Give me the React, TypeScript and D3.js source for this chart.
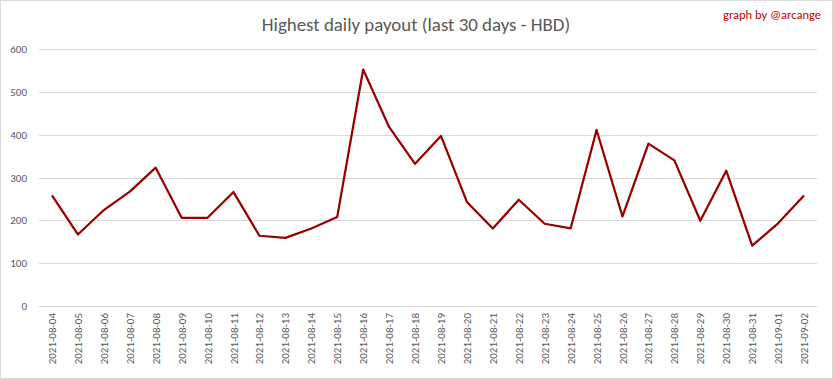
import React from "react";
import * as d3 from "d3";

const dates = [
  "2021-08-04","2021-08-05","2021-08-06","2021-08-07","2021-08-08","2021-08-09","2021-08-10",
  "2021-08-11","2021-08-12","2021-08-13","2021-08-14","2021-08-15","2021-08-16","2021-08-17",
  "2021-08-18","2021-08-19","2021-08-20","2021-08-21","2021-08-22","2021-08-23","2021-08-24",
  "2021-08-25","2021-08-26","2021-08-27","2021-08-28","2021-08-29","2021-08-30","2021-08-31",
  "2021-09-01","2021-09-02",
];
const payouts = [
  258, 167, 224, 267, 323, 206, 206, 266, 164, 159, 181, 208, 552, 418, 332,
  397, 243, 181, 248, 192, 181, 411, 209, 379, 340, 199, 316, 141, 193, 258,
];
const yTicks = [0, 100, 200, 300, 400, 500, 600];
const title = "Highest daily payout (last 30 days - HBD)";
const credit = "graph by @arcange";

const W = 833;
const H = 379;
const font = "Carlito, Calibri, 'Liberation Sans', Arial, sans-serif";

export default function App() {
  const x = d3.scaleBand<string>().domain(dates).range([39, 817]);
  const y = d3.scaleLinear().domain([0, 600]).range([306, 49]);
  const line = d3
    .line<number>()
    .x((_, i) => (x(dates[i]) as number) + x.bandwidth() / 2)
    .y((d) => y(d));

  return (
    <svg
      width={W}
      height={H}
      style={{ position: "absolute", left: 0, top: 0, background: "#fff" }}
      fontFamily={font}
    >
      <rect x={0.5} y={0.5} width={W - 1} height={H - 1} fill="#fff" stroke="#d9d9d9" />
      <text x={416} y={31} textAnchor="middle" fontSize={18.9} fill="#595959">
        {title}
      </text>
      <text x={821} y={18.5} textAnchor="end" fontSize={12.5} fill="#c00000">
        {credit}
      </text>
      {yTicks.map((t) => (
        <g key={t}>
          <line x1={39} x2={817} y1={Math.round(y(t)) + 0.5} y2={Math.round(y(t)) + 0.5} stroke="#d9d9d9" strokeWidth={1} />
          <text x={27} y={y(t) + 4} textAnchor="end" fontSize={11} fill="#595959">
            {t}
          </text>
        </g>
      ))}
      {dates.map((d) => {
        const cx = (x(d) as number) + x.bandwidth() / 2;
        return (
          <text
            key={d}
            transform={`translate(${cx + 4},313) rotate(-90)`}
            textAnchor="end"
            fontSize={11}
            fill="#595959"
          >
            {d}
          </text>
        );
      })}
      <path d={line(payouts) as string} fill="none" stroke="#990000" strokeWidth={2.25} strokeLinejoin="round" />
    </svg>
  );
}
